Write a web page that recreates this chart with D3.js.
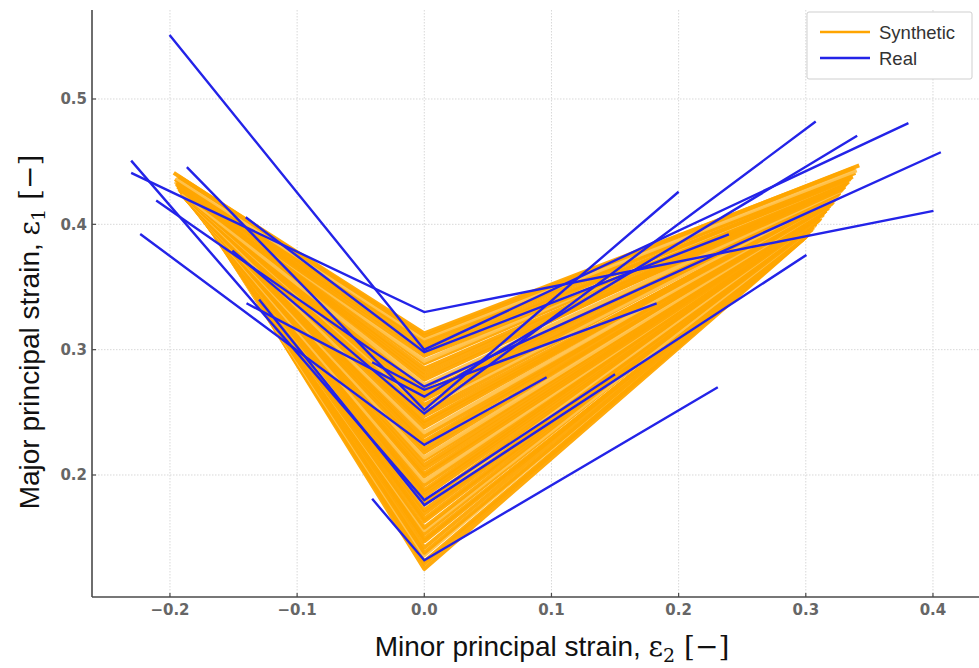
<!DOCTYPE html>
<html><head><meta charset="utf-8">
<script src="https://cdn.jsdelivr.net/npm/d3@7"></script>
<style>body{margin:0;background:#fff} svg{display:block}</style>
</head><body><svg id="c" width="979" height="668"></svg>
<script>
// ---- tick data ----
const xTicks = [-0.2, -0.1, 0.0, 0.1, 0.2, 0.3, 0.4];
const xTickLabels = ["\u22120.2", "\u22120.1", "0.0", "0.1", "0.2", "0.3", "0.4"];
const yTicks = [0.2, 0.3, 0.4, 0.5];
const yTickLabels = ["0.2", "0.3", "0.4", "0.5"];
const seriesNames = ["Synthetic", "Real"];

// ---- Real series: each line = (leftX,leftY) -> (0,midY) -> (rightX,rightY) ----
const realLeftX  = [-0.2305, -0.2003, -0.1404, -0.2108, -0.041, -0.1398, -0.1867, -0.1509, -0.2234, -0.2305, -0.1299, -0.041];
const realLeftY  = [ 0.441,   0.551,   0.4057,  0.419,   0.290,  0.337,   0.4456,  0.379,   0.3923,  0.4508,  0.340,   0.181];
const realMidY   = [ 0.330,   0.300,   0.298,   0.2705,  0.268,  0.2625,  0.252,   0.249,   0.224,   0.180,   0.176,   0.132];
const realRightX = [ 0.4004,  0.3807,  0.2395,  0.4062,  0.1827, 0.3404,  0.200,   0.3078,  0.0962,  0.150,   0.3005,  0.2308];
const realRightY = [ 0.4107,  0.4807,  0.392,   0.4575,  0.337,  0.4706,  0.426,   0.482,   0.278,   0.2804,  0.3756,  0.270];

// ---- Synthetic series ----
const synMidY = [0.125,0.129,0.131,0.136,0.138,0.142,0.147,0.149,0.153,0.156,0.158,0.163,0.165,0.169,0.172,0.176,0.178,0.183,0.186,0.188,
                 0.192,0.195,0.199,0.201,0.205,0.208,0.212,0.214,0.218,0.221,0.225,0.227,0.231,0.234,0.238,0.241,0.243,0.247,0.250,0.254,
                 0.256,0.260,0.263,0.266,0.270,0.272,0.276,0.279,0.282,0.285,0.289,0.291,0.295,0.298,0.301,0.304,0.307,0.309,0.311,0.313];
const synLeftX = [-0.171,-0.174,-0.170,-0.176,-0.173,-0.178,-0.175,-0.172,-0.179,-0.177,-0.181,-0.176,-0.180,-0.183,-0.178,-0.182,-0.185,-0.180,-0.184,-0.187,
                  -0.182,-0.186,-0.183,-0.188,-0.185,-0.189,-0.184,-0.187,-0.190,-0.186,-0.188,-0.191,-0.187,-0.190,-0.192,-0.189,-0.191,-0.188,-0.193,-0.190,
                  -0.192,-0.189,-0.194,-0.191,-0.193,-0.190,-0.195,-0.192,-0.194,-0.191,-0.193,-0.196,-0.192,-0.195,-0.193,-0.196,-0.194,-0.195,-0.197,-0.193];
const synLeftY = [0.404,0.407,0.402,0.409,0.405,0.411,0.408,0.404,0.412,0.410,0.414,0.409,0.413,0.416,0.411,0.415,0.418,0.413,0.417,0.420,
                  0.415,0.419,0.416,0.421,0.418,0.422,0.417,0.420,0.423,0.419,0.421,0.425,0.420,0.424,0.427,0.423,0.426,0.422,0.428,0.425,
                  0.427,0.424,0.430,0.426,0.429,0.425,0.432,0.428,0.431,0.427,0.430,0.434,0.429,0.433,0.431,0.436,0.433,0.437,0.441,0.438];
const synRightX = [0.298,0.303,0.300,0.306,0.302,0.308,0.305,0.301,0.310,0.307,0.312,0.306,0.311,0.314,0.309,0.313,0.316,0.311,0.315,0.318,
                   0.313,0.317,0.314,0.319,0.316,0.321,0.318,0.320,0.323,0.319,0.322,0.325,0.321,0.324,0.327,0.323,0.326,0.322,0.328,0.325,
                   0.329,0.326,0.331,0.327,0.330,0.328,0.333,0.329,0.332,0.330,0.334,0.336,0.331,0.337,0.335,0.339,0.336,0.340,0.342,0.338];
const synRightY = [0.388,0.393,0.390,0.397,0.392,0.400,0.396,0.391,0.403,0.399,0.405,0.398,0.404,0.408,0.402,0.407,0.411,0.405,0.410,0.414,
                   0.408,0.413,0.409,0.415,0.411,0.417,0.413,0.416,0.420,0.415,0.418,0.422,0.417,0.421,0.425,0.420,0.424,0.419,0.427,0.423,
                   0.428,0.424,0.430,0.426,0.429,0.427,0.433,0.428,0.432,0.430,0.434,0.437,0.431,0.438,0.436,0.441,0.439,0.443,0.447,0.445];

// ---- layout ----
const W = 979, H = 668;
const pLeft = 92, pRight = 979, pTop = 10, pBottom = 597;
const x = d3.scaleLinear().domain([-0.2613, 0.4362]).range([pLeft, pRight]);
const y = d3.scaleLinear().domain([0.10266, 0.5710]).range([pBottom, pTop]);

const svg = d3.select("#c");
svg.append("rect").attr("width", W).attr("height", H).attr("fill", "#fff");

// grid
const grid = svg.append("g");
grid.selectAll(".gx").data(xTicks).join("line")
  .attr("x1", d => x(d)).attr("x2", d => x(d)).attr("y1", pTop).attr("y2", pBottom)
  .attr("stroke", "#d8d8d8").attr("stroke-width", 1).attr("stroke-dasharray", "1.5,1.5");
grid.selectAll(".gy").data(yTicks).join("line")
  .attr("y1", d => y(d)).attr("y2", d => y(d)).attr("x1", pLeft).attr("x2", pRight)
  .attr("stroke", "#d8d8d8").attr("stroke-width", 1).attr("stroke-dasharray", "1.5,1.5");

const line = d3.line().x(d => x(d[0])).y(d => y(d[1]));

// synthetic lines
const synData = synMidY.map((m, i) => [[synLeftX[i], synLeftY[i]], [0, m], [synRightX[i], synRightY[i]]]);
svg.append("g").selectAll("path").data(synData).join("path")
  .attr("d", line).attr("fill", "none")
  .attr("stroke", (d, i) => (i % 6 === 3 ? "#FFC24D" : "#FFA500"))
  .attr("stroke-width", 4).attr("stroke-linejoin", "round").attr("stroke-opacity", 0.95);

// real lines
const realData = realMidY.map((m, i) => [[realLeftX[i], realLeftY[i]], [0, m], [realRightX[i], realRightY[i]]]);
svg.append("g").selectAll("path").data(realData).join("path")
  .attr("d", line).attr("fill", "none")
  .attr("stroke", "#2323E8").attr("stroke-width", 2.4).attr("stroke-linejoin", "miter");

// axes spines
const axisColor = "#4a4a4a";
svg.append("line").attr("x1", pLeft).attr("x2", pLeft).attr("y1", pTop).attr("y2", pBottom)
  .attr("stroke", axisColor).attr("stroke-width", 1.6);
svg.append("line").attr("x1", pLeft).attr("x2", pRight).attr("y1", pBottom).attr("y2", pBottom)
  .attr("stroke", axisColor).attr("stroke-width", 1.6);

// ticks
svg.append("g").selectAll("line").data(xTicks).join("line")
  .attr("x1", d => x(d)).attr("x2", d => x(d)).attr("y1", pBottom).attr("y2", pBottom - 4)
  .attr("stroke", axisColor).attr("stroke-width", 1.2);
svg.append("g").selectAll("line").data(yTicks).join("line")
  .attr("y1", d => y(d)).attr("y2", d => y(d)).attr("x1", pLeft).attr("x2", pLeft + 4)
  .attr("stroke", axisColor).attr("stroke-width", 1.2);

const tickFont = "'DejaVu Sans', sans-serif";
svg.append("g").selectAll("text").data(xTicks).join("text")
  .attr("x", d => x(d)).attr("y", 615).attr("text-anchor", "middle")
  .attr("font-family", tickFont).attr("font-size", 15).attr("font-weight", "bold").attr("fill", "#666")
  .text((d, i) => xTickLabels[i]);
svg.append("g").selectAll("text").data(yTicks).join("text")
  .attr("x", 87).attr("y", d => y(d) + 5.5).attr("text-anchor", "end")
  .attr("font-family", tickFont).attr("font-size", 15).attr("font-weight", "bold").attr("fill", "#666")
  .text((d, i) => yTickLabels[i]);

// axis titles
const sans = "'Liberation Sans', Arial, sans-serif";
const serif = "'DejaVu Serif', 'Liberation Serif', serif";
const xt = svg.append("text").attr("x", 552).attr("y", 656).attr("text-anchor", "middle")
  .attr("font-family", sans).attr("font-size", 28).attr("fill", "#111");
xt.append("tspan").text("Minor principal strain, ");
xt.append("tspan").attr("font-family", serif).text("\u03b5");
xt.append("tspan").attr("font-family", serif).attr("font-size", 19).attr("dy", 6).text("2");
xt.append("tspan").attr("font-family", serif).attr("dy", -6).text(" [\u2212]");

const yt = svg.append("text").attr("transform", "translate(39,332) rotate(-90)").attr("text-anchor", "middle")
  .attr("font-family", sans).attr("font-size", 28).attr("fill", "#111");
yt.append("tspan").text("Major principal strain, ");
yt.append("tspan").attr("font-family", serif).text("\u03b5");
yt.append("tspan").attr("font-family", serif).attr("font-size", 19).attr("dy", 6).text("1");
yt.append("tspan").attr("font-family", serif).attr("dy", -6).text(" [\u2212]");

// legend
const lg = svg.append("g");
lg.append("rect").attr("x", 807).attr("y", 12).attr("width", 165).attr("height", 67).attr("rx", 2)
  .attr("fill", "#fff").attr("stroke", "#cfcfcf").attr("stroke-width", 1);
const legColors = ["#FFA500", "#2323E8"];
seriesNames.forEach((n, i) => {
  const yy = 32 + i * 26;
  lg.append("line").attr("x1", 820).attr("x2", 870).attr("y1", yy).attr("y2", yy)
    .attr("stroke", legColors[i]).attr("stroke-width", 2.4);
  lg.append("text").attr("x", 879).attr("y", yy + 6.5).attr("font-family", sans)
    .attr("font-size", 18.5).attr("fill", "#333").text(n);
});
</script></body></html>
